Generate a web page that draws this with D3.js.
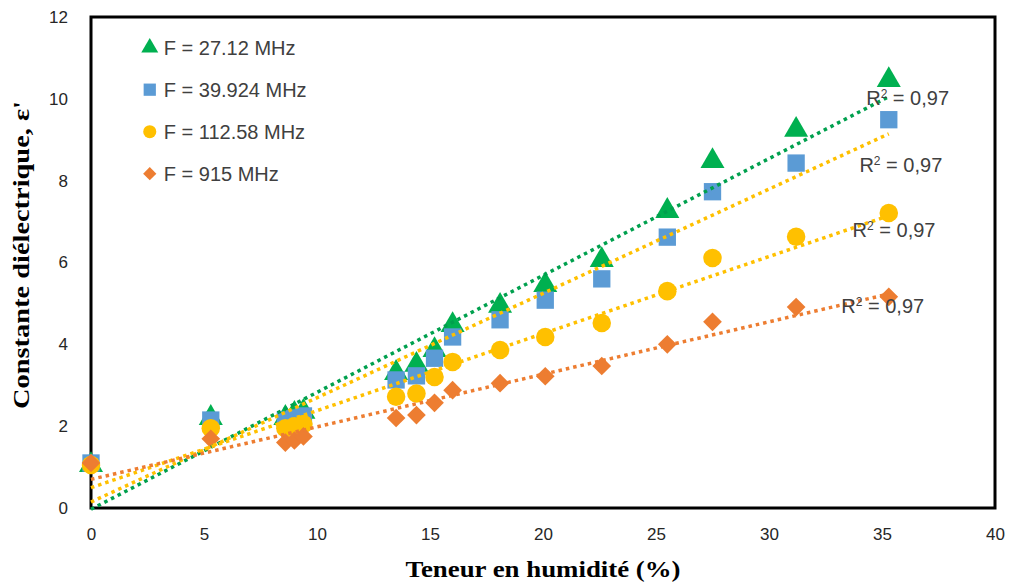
<!DOCTYPE html>
<html>
<head>
<meta charset="utf-8">
<script src="https://cdn.jsdelivr.net/npm/d3@7"></script>
<style>
  html, body { margin: 0; padding: 0; background: #fff; }
  svg { display: block; }
</style>
</head>
<body>
<div id="chart"></div>
<script>
// Constante diélectrique vs teneur en humidité, 4 fréquences + droites de tendance

const MOISTURE = [0, 5.3, 8.6, 9.0, 9.4, 13.5, 14.4, 15.2, 16.0, 18.1, 20.1, 22.6, 25.5, 27.5, 31.2, 35.3];

const EPS_27 = [1.05, 2.2, 2.2, 2.3, 2.35, 3.3, 3.5, 3.86, 4.47, 4.94, 5.45, 6.06, 7.26, 8.48, 9.24, 10.46];
const EPS_39 = [1.1, 2.15, 2.15, 2.2, 2.25, 3.13, 3.23, 3.66, 4.18, 4.6, 5.08, 5.6, 6.62, 7.73, 8.43, 9.49];
const EPS_112 = [1.05, 1.95, 1.95, 2.0, 2.05, 2.72, 2.8, 3.2, 3.57, 3.86, 4.18, 4.52, 5.3, 6.11, 6.63, 7.21];
const EPS_915 = [1.1, 1.69, 1.6, 1.65, 1.75, 2.2, 2.27, 2.57, 2.88, 3.05, 3.22, 3.47, 4.0, 4.55, 4.91, 5.16];

const SERIES_NAMES = ["F = 27.12 MHz", "F = 39.924 MHz", "F = 112.58 MHz", "F = 915 MHz"];
const R2_TEXT = ["0,97", "0,97", "0,97", "0,97"];

const X_TICKS = [0, 5, 10, 15, 20, 25, 30, 35, 40];
const Y_TICKS = [0, 2, 4, 6, 8, 10, 12];

// style per series (marker shape, marker colour, trendline colour, R² label spot in data units)
const STYLES = [
  { shape: d3.symbolTriangle, size: 250, rot: 0,  fill: "#00B050", line: "#00A04E", r2: [34.3, 9.85] },
  { shape: d3.symbolSquare,   size: 300, rot: 0,  fill: "#5B9BD5", line: "#FFC000", r2: [34.0, 8.21] },
  { shape: d3.symbolCircle,   size: 270, rot: 0,  fill: "#FFC000", line: "#FFC000", r2: [33.7, 6.62] },
  { shape: d3.symbolSquare,   size: 175, rot: 45, fill: "#ED7D31", line: "#ED7D31", r2: [33.2, 4.77] },
];

const seriesData = [EPS_27, EPS_39, EPS_112, EPS_915].map((vals, i) => ({
  name: SERIES_NAMES[i],
  r2: R2_TEXT[i],
  style: STYLES[i],
  points: vals.map((v, j) => ({ x: MOISTURE[j], y: v })),
}));

function linFit(pts) {
  const mx = d3.mean(pts, d => d.x), my = d3.mean(pts, d => d.y);
  let sxy = 0, sxx = 0;
  pts.forEach(d => { sxy += (d.x - mx) * (d.y - my); sxx += (d.x - mx) ** 2; });
  const b = sxy / sxx;
  return { a: my - b * mx, b };
}

const totalW = 1012, totalH = 584;
const margin = { top: 17, right: 17, bottom: 76, left: 91 };
const W = totalW - margin.left - margin.right;
const H = totalH - margin.top - margin.bottom;

const svg = d3.select("#chart").append("svg")
  .attr("width", totalW).attr("height", totalH);

const g = svg.append("g").attr("transform", `translate(${margin.left},${margin.top})`);

const x = d3.scaleLinear().domain([0, 40]).range([0, W]);
const y = d3.scaleLinear().domain([0, 12]).range([H, 0]);

/* ── Axes (labels only) ── */
g.append("g").attr("transform", `translate(0,${H})`)
  .call(d3.axisBottom(x).tickValues(X_TICKS).tickSize(0).tickPadding(20).tickFormat(d3.format("d")))
  .call(ax => ax.select(".domain").remove())
  .selectAll("text").attr("font-family", "Liberation Sans, Arial, sans-serif")
  .attr("font-size", 17).attr("fill", "#262626");

g.append("g")
  .call(d3.axisLeft(y).tickValues(Y_TICKS).tickSize(0).tickPadding(23).tickFormat(d3.format("d")))
  .call(ax => ax.select(".domain").remove())
  .selectAll("text").attr("font-family", "Liberation Sans, Arial, sans-serif")
  .attr("font-size", 17).attr("fill", "#262626");

/* ── Plot frame ── */
g.append("rect").attr("x", 0).attr("y", 0).attr("width", W).attr("height", H)
  .attr("fill", "none").attr("stroke", "#000").attr("stroke-width", 3);

/* ── Markers ── */
seriesData.forEach(s => {
  g.append("g").selectAll("path")
    .data(s.points)
    .join("path")
    .attr("transform", d => `translate(${x(d.x)},${y(d.y)}) rotate(${s.style.rot})`)
    .attr("d", d3.symbol().type(s.style.shape).size(s.style.size))
    .attr("fill", s.style.fill);
});

/* ── Trendlines ── */
seriesData.forEach(s => {
  const f = linFit(s.points);
  const ext = d3.extent(s.points, d => d.x);
  g.append("line")
    .attr("x1", x(ext[0])).attr("y1", y(f.a + f.b * ext[0]))
    .attr("x2", x(ext[1])).attr("y2", y(f.a + f.b * ext[1]))
    .attr("stroke", s.style.line).attr("stroke-width", 3.5)
    .attr("stroke-dasharray", "3.5 4");
});

/* ── R² labels ── */
seriesData.forEach(s => {
  const t = g.append("text")
    .attr("x", x(s.style.r2[0])).attr("y", y(s.style.r2[1]))
    .attr("font-family", "Liberation Sans, Arial, sans-serif")
    .attr("font-size", 20).attr("fill", "#404040");
  t.append("tspan").text("R");
  t.append("tspan").attr("dy", -7).attr("font-size", 12).text("2");
  t.append("tspan").attr("dy", 7).text(" = " + s.r2);
});

/* ── Legend ── */
const legend = g.append("g").attr("transform", `translate(${x(2.6)},${y(11.25)})`);
seriesData.forEach((s, i) => {
  const row = legend.append("g").attr("transform", `translate(0,${i * 42})`);
  row.append("path")
    .attr("transform", `rotate(${s.style.rot})`)
    .attr("d", d3.symbol().type(s.style.shape).size(s.style.size * 0.5))
    .attr("fill", s.style.fill);
  row.append("text").attr("x", 14).attr("y", 7)
    .attr("font-family", "Liberation Sans, Arial, sans-serif")
    .attr("font-size", 20).attr("fill", "#404040")
    .text(s.name);
});

/* ── Axis titles ── */
svg.append("text")
  .attr("x", 543).attr("y", 577)
  .attr("text-anchor", "middle")
  .attr("font-family", "Liberation Serif, Times New Roman, serif")
  .attr("font-weight", "bold").attr("font-size", 24).attr("fill", "#000")
  .attr("textLength", 275).attr("lengthAdjust", "spacingAndGlyphs")
  .text("Teneur en humidité (%)");

svg.append("text")
  .attr("transform", `translate(29,255) rotate(-90)`)
  .attr("text-anchor", "middle")
  .attr("font-family", "Liberation Serif, Times New Roman, serif")
  .attr("font-weight", "bold").attr("font-size", 23).attr("fill", "#000")
  .attr("textLength", 308).attr("lengthAdjust", "spacingAndGlyphs")
  .text("Constante diélectrique, ε'");
</script>
</body>
</html>
